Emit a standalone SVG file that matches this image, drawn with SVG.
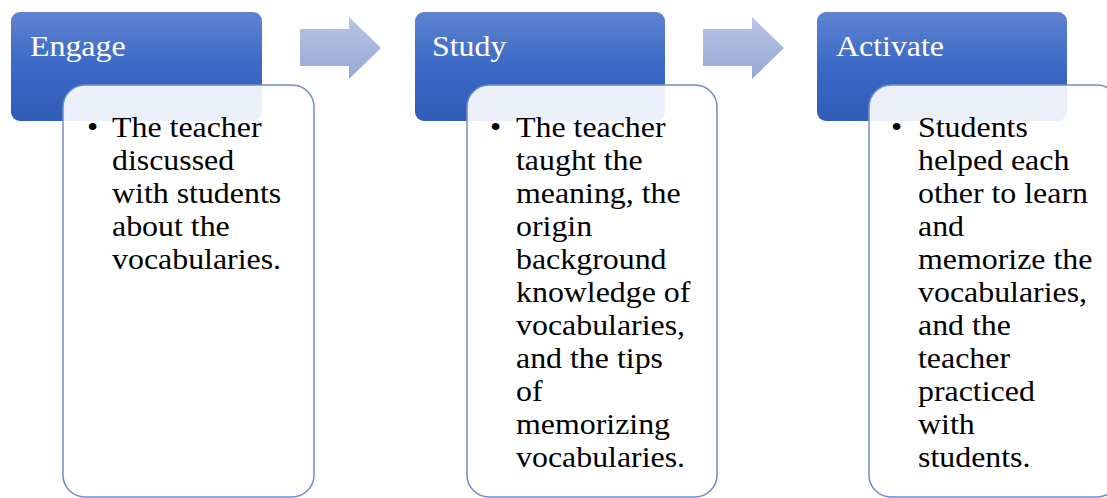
<svg xmlns="http://www.w3.org/2000/svg" width="1107" height="498" viewBox="0 0 1107 498">
<defs>
<linearGradient id="hdr" x1="0" y1="0" x2="0" y2="1">
<stop offset="0" stop-color="#5e84d0"/>
<stop offset="0.5" stop-color="#3b69c6"/>
<stop offset="1" stop-color="#315cb8"/>
</linearGradient>
<linearGradient id="arr" x1="0" y1="0" x2="0" y2="1">
<stop offset="0" stop-color="#b8c5e6"/>
<stop offset="1" stop-color="#96a7d3"/>
</linearGradient>
<clipPath id="page"><rect x="0" y="0" width="1107" height="498"/></clipPath>
</defs>
<style>
.hdr{fill:url(#hdr);}
.card{fill:#ffffff;fill-opacity:0.9;stroke:#6e8ccb;stroke-width:1.5;}
.arrow{fill:url(#arr);}
.title{font-family:"Liberation Serif","Times New Roman",serif;font-size:29px;fill:#ffffff;}
.body{font-family:"Liberation Serif","Times New Roman",serif;font-size:29px;fill:#000000;}
</style>
<g id="connectors">
<path class="arrow" d="M300,29 H349 V17 L381,48 L349,79 V66 H300 Z"/>
<path class="arrow" d="M703,29 H752 V17 L784,48 L752,79 V66 H703 Z"/>
</g>
<g id="engage">
<rect class="hdr" x="11" y="12" width="251" height="109" rx="9"/>
<text class="title" transform="matrix(1.1,0,0,1,30,56)">Engage</text>
<rect class="card" x="63" y="85" width="251" height="412" rx="22"/>
<text class="body" transform="matrix(1.1,0,0,1,87,137)">•</text>
<text class="body" transform="matrix(1.1,0,0,1,112,0)"><tspan x="0" y="137">The teacher</tspan><tspan x="0" y="170">discussed</tspan><tspan x="0" y="203">with students</tspan><tspan x="0" y="236">about the</tspan><tspan x="0" y="269">vocabularies.</tspan></text>
</g>
<g id="study">
<rect class="hdr" x="415" y="12" width="250" height="109" rx="9"/>
<text class="title" transform="matrix(1.1,0,0,1,432,56)">Study</text>
<rect class="card" x="467" y="85" width="250" height="412" rx="22"/>
<text class="body" transform="matrix(1.1,0,0,1,490,137)">•</text>
<text class="body" transform="matrix(1.1,0,0,1,516,0)"><tspan x="0" y="137">The teacher</tspan><tspan x="0" y="170">taught the</tspan><tspan x="0" y="203">meaning, the</tspan><tspan x="0" y="236">origin</tspan><tspan x="0" y="269">background</tspan><tspan x="0" y="302">knowledge of</tspan><tspan x="0" y="335">vocabularies,</tspan><tspan x="0" y="368">and the tips</tspan><tspan x="0" y="401">of</tspan><tspan x="0" y="434">memorizing</tspan><tspan x="0" y="467">vocabularies.</tspan></text>
</g>
<g id="activate" clip-path="url(#page)">
<rect class="hdr" x="817" y="12" width="250" height="109" rx="9"/>
<text class="title" transform="matrix(1.1,0,0,1,836,56)">Activate</text>
<rect class="card" x="869" y="85" width="250" height="412" rx="22"/>
<text class="body" transform="matrix(1.1,0,0,1,891,137)">•</text>
<text class="body" transform="matrix(1.1,0,0,1,918,0)"><tspan x="0" y="137">Students</tspan><tspan x="0" y="170">helped each</tspan><tspan x="0" y="203">other to learn</tspan><tspan x="0" y="236">and</tspan><tspan x="0" y="269">memorize the</tspan><tspan x="0" y="302">vocabularies,</tspan><tspan x="0" y="335">and the</tspan><tspan x="0" y="368">teacher</tspan><tspan x="0" y="401">practiced</tspan><tspan x="0" y="434">with</tspan><tspan x="0" y="467">students.</tspan></text>
</g>
</svg>
